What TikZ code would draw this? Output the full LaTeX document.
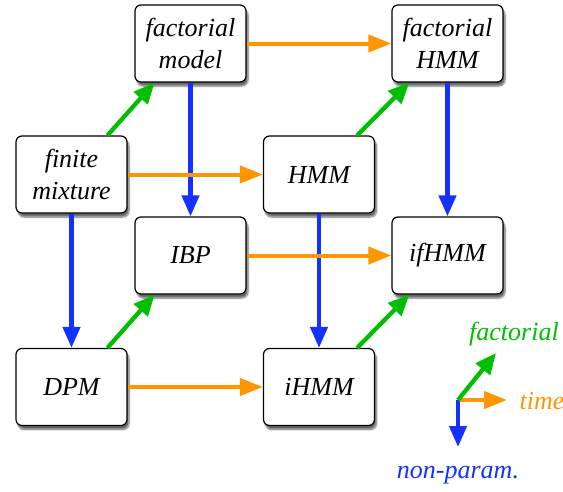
\documentclass[tikz,border=0pt]{standalone}
\usepackage{fontspec}
\newfontfamily\tfont{Liberation Serif}
\usetikzlibrary{arrows.meta,shadows.blur,calc}
\definecolor{corange}{RGB}{255,150,0}
\definecolor{cgreen}{RGB}{0,190,0}
\definecolor{cblue}{RGB}{20,50,255}
\begin{document}
\begin{tikzpicture}[x=1pt,y=-1pt,
  box/.style={draw=black, line width=1.2pt, rounded corners=6pt, fill=white,
    minimum width=111pt, minimum height=77pt, inner sep=0pt, align=center,
    font=\tfont\itshape\fontsize{26}{32}\selectfont,
    blur shadow={shadow xshift=2pt, shadow yshift=-4pt, shadow blur steps=6, shadow opacity=60}},
  lbl/.style={inner sep=0pt, font=\tfont\itshape\fontsize{26}{32}\selectfont},
  tarr/.style={corange, line width=4pt, -{Triangle[length=23pt,width=17pt]}},
  parr/.style={cblue, line width=4.3pt, -{Triangle[length=21pt,width=17pt]}},
  farr/.style={cgreen, line width=4.3pt, -{Triangle[length=21pt,width=18pt]}}]
\useasboundingbox (0,0) rectangle (563,491);

\node[box] (fmod) at (190.5,43.5) {factorial\\model};
\node[box] (fhmm) at (447.5,43.5) {factorial\\HMM};
\node[box] (fmix) at (71.5,174.5) {finite\\mixture};
\node[box] (hmm) at (319,174.5) {HMM};
\node[box] (ibp) at (190.5,255.5) {IBP};
\node[box] (ifhmm) at (447.5,255.5) {ifHMM};
\node[box] (dpm) at (71.5,387) {DPM};
\node[box] (ihmm) at (319,387) {iHMM};

% non-parametric (blue)
\draw[parr] (fmod.south) -- (ibp.north);
\draw[parr] (fmix.south) -- (dpm.north);
\draw[parr] (hmm.south) -- (ihmm.north);
\draw[parr] (fhmm.south) -- (ifhmm.north);

% time (orange)
\draw[tarr] (fmod.east) -- (fhmm.west);
\draw[tarr] (fmix.east) -- (hmm.west);
\draw[tarr] (ibp.east) -- (ifhmm.west);
\draw[tarr] (dpm.east) -- (ihmm.west);

% factorial (green)
\draw[farr] ($(fmix.north west)!0.82!(fmix.north east)$) -- ($(fmod.south west)!0.18!(fmod.south east)$);
\draw[farr] ($(hmm.north west)!0.84!(hmm.north east)$) -- ($(fhmm.south west)!0.16!(fhmm.south east)$);
\draw[farr] ($(dpm.north west)!0.82!(dpm.north east)$) -- ($(ibp.south west)!0.18!(ibp.south east)$);
\draw[farr] ($(ihmm.north west)!0.84!(ihmm.north east)$) -- ($(ifhmm.south west)!0.16!(ifhmm.south east)$);

% legend
\coordinate (o) at (458,400);
\coordinate (gend) at (496,353);
\coordinate (oend) at (507,400);
\coordinate (bend) at (458,447);
\draw[tarr] (o) -- (oend);
\draw[parr] (o) -- (bend);
\draw[farr] (o) -- (gend);
\node[lbl, text=cgreen] (lf) at (514,334) {factorial};
\node[lbl, text=corange] (lt) at (542,401) {time};
\node[lbl, text=cblue] (ln) at (458,475) {non-param.};
\end{tikzpicture}
\end{document}
